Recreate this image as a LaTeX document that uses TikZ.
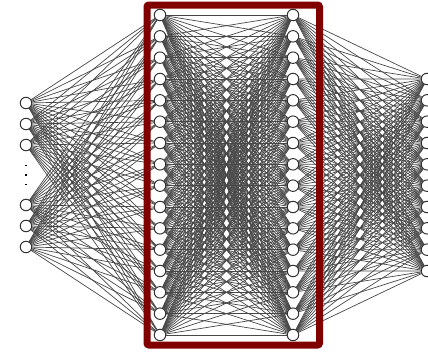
\documentclass[tikz,border=0pt]{standalone}
\pgfdeclarelayer{bg}
\pgfsetlayers{bg,main}
\begin{document}
\begin{tikzpicture}[x=1pt,y=-1pt,
  neuron/.style={circle,draw=black!80,fill=white,line width=1pt,minimum size=11.5pt,inner sep=0pt},
  conn/.style={draw=black!72,line width=0.7pt},
  frame/.style={draw={rgb,255:red,128;green,0;blue,0},line width=7pt,rounded corners=2pt}]
\useasboundingbox (0,0) rectangle (428,351);
% layer 1
\foreach \i/\y in {1/103,2/124,3/145,4/205,5/226,6/247}
  \node[neuron] (a\i) at (26,\y) {};
\foreach \y in {165.5,175,184.5}
  \fill[black] (25,\y-0.8) rectangle (26.6,\y+0.8);
% layer 2 and 3
\foreach \i in {0,...,15}{
  \node[neuron] (b\i) at (160,15+\i*21.333) {};
  \node[neuron] (c\i) at (293,15+\i*21.333) {};
}
% layer 4
\foreach \i in {0,...,9}
  \node[neuron] (d\i) at (427,79+\i*21.333) {};
% connections
\begin{pgfonlayer}{bg}
\foreach \i in {1,...,6}
  \foreach \j in {0,...,15}
    \draw[conn] (a\i) -- (b\j);
\foreach \i in {0,...,15}
  \foreach \j in {0,...,15}
    \draw[conn] (b\i) -- (c\j);
\foreach \i in {0,...,15}
  \foreach \j in {0,...,9}
    \draw[conn] (c\i) -- (d\j);
\end{pgfonlayer}
\draw[frame] (147,5) rectangle (319.5,345);
\end{tikzpicture}
\end{document}
